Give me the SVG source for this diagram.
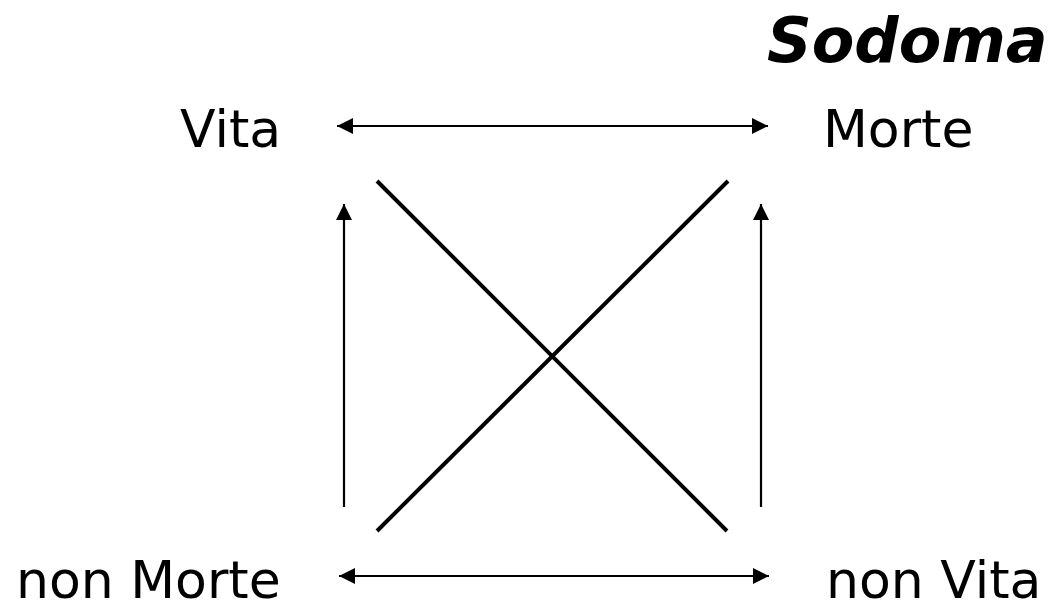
<svg xmlns="http://www.w3.org/2000/svg" width="1054" height="613" viewBox="0 0 1054 613">
<style>
.lbl{font-family:"DejaVu Sans","Verdana",sans-serif;font-size:52px;fill:#000}
.title{font-family:"DejaVu Sans","Verdana",sans-serif;font-size:62px;font-weight:bold;font-style:italic;fill:#000}
.arr{stroke:#000;stroke-width:2.2;fill:none}
.diag{stroke:#000;stroke-width:4;fill:none}
</style>
<defs>
<marker id="ah" markerUnits="userSpaceOnUse" markerWidth="18" markerHeight="18" viewBox="0 0 18 18" refX="16" refY="9" orient="auto-start-reverse">
<path d="M0,1 L16,9 L0,17 Z" fill="#000"/>
</marker>
</defs>
<rect width="1054" height="613" fill="#fff"/>
<g id="title"><text class="title" x="767" y="62">Sodoma</text></g>
<g id="vita"><text class="lbl" x="180" y="147">Vita</text></g>
<g id="morte"><text class="lbl" x="823" y="147">Morte</text></g>
<g id="nonmorte"><text class="lbl" x="16" y="598">non Morte</text></g>
<g id="nonvita"><text class="lbl" x="826" y="598">non Vita</text></g>
<g id="connectors">
<line class="arr" x1="337" y1="126" x2="768" y2="126" marker-start="url(#ah)" marker-end="url(#ah)"/>
<line class="arr" x1="339" y1="576" x2="769" y2="576" marker-start="url(#ah)" marker-end="url(#ah)"/>
<line class="arr" x1="344" y1="507" x2="344" y2="204" marker-end="url(#ah)"/>
<line class="arr" x1="761" y1="507" x2="761" y2="204" marker-end="url(#ah)"/>
<line class="diag" x1="377" y1="181" x2="727" y2="531"/>
<line class="diag" x1="377" y1="531" x2="728" y2="181"/>
</g>
</svg>
